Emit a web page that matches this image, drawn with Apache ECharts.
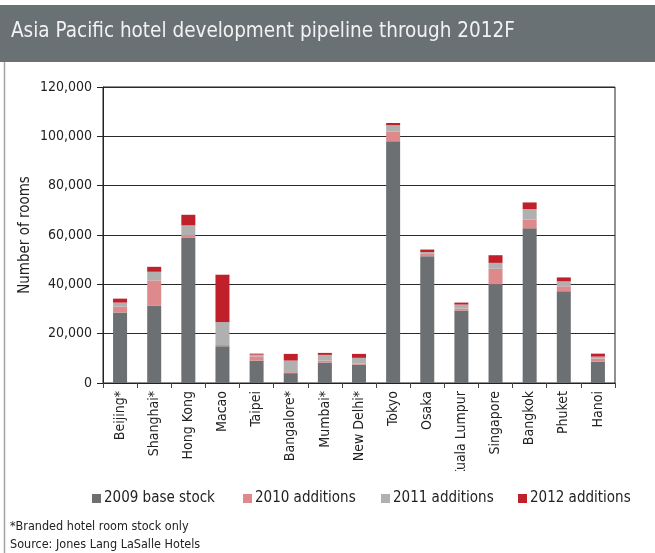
<!DOCTYPE html>
<html>
<head>
<meta charset="utf-8">
<script src="https://cdn.jsdelivr.net/npm/echarts@6/dist/echarts.min.js"></script>
<style>
  html, body { margin: 0; padding: 0; background: #fff; }
  #chart { width: 655px; height: 553px; }
</style>
</head>
<body>
<div id="chart"></div>
<script>
// Hotel room stock by city (rooms)
const cities = ['Beijing*', 'Shanghai*', 'Hong Kong', 'Macao', 'Taipei', 'Bangalore*', 'Mumbai*',
  'New Delhi*', 'Tokyo', 'Osaka', 'Kuala Lumpur', 'Singapore', 'Bangkok', 'Phuket', 'Hanoi'];
const base2009 = [28600, 31400, 58800, 14900, 9100, 4000, 8300, 7500, 98000, 51400, 29400, 40000, 62700, 37200, 8700];
const add2010  = [2400, 10200, 1200, 500, 1700, 400, 800, 400, 3900, 1200, 800, 6300, 3500, 2000, 1200];
const add2011  = [1600, 3500, 3900, 9300, 700, 4700, 2300, 2300, 2600, 500, 1600, 2400, 4300, 2000, 800];
const add2012  = [1600, 2000, 4300, 19200, 400, 2700, 800, 1600, 900, 1000, 800, 3100, 2700, 1600, 1200];
const seriesNames = ['2009 base stock', '2010 additions', '2011 additions', '2012 additions'];
const yTicks = [0, 20000, 40000, 60000, 80000, 100000, 120000];

const FONT = '"DejaVu Sans Condensed", "Liberation Sans", sans-serif';
const colors = ['#6d7073', '#de8a8c', '#b0b0b1', '#c0202a'];
const legendLefts = [92, 243, 381, 518];

const chart = echarts.init(document.getElementById('chart'), null, { renderer: 'canvas' });

const values = [base2009, add2010, add2011, add2012];
const series = seriesNames.map((name, i) => ({
  name: name,
  type: 'bar',
  stack: 'rooms',
  barWidth: 14,
  data: values[i],
  itemStyle: { color: colors[i] }
}));

// one legend block per series so each entry sits at its own column
const legends = seriesNames.map((name, i) => ({
  data: [name],
  left: legendLefts[i], top: 491, padding: 0,
  icon: 'rect', itemWidth: 9, itemHeight: 9,
  textStyle: { fontFamily: FONT, fontSize: 15, color: '#222', padding: [0, 0, 0, -2] }
}));

chart.setOption({
  animation: false,
  color: colors,
  textStyle: { fontFamily: FONT },
  grid: {
    left: 103, right: 40, top: 87, bottom: 170,
    show: true, borderColor: '#222', borderWidth: 1, backgroundColor: 'transparent'
  },
  legend: legends,
  xAxis: {
    type: 'category',
    data: cities,
    axisLine: { lineStyle: { color: '#222', width: 1 } },
    axisTick: { show: true, length: 5, lineStyle: { color: '#444' } },
    axisLabel: { rotate: 90, margin: 8, fontFamily: FONT, fontSize: 14, color: '#222', interval: 0 }
  },
  yAxis: {
    type: 'value',
    min: yTicks[0], max: yTicks[yTicks.length - 1], interval: yTicks[1] - yTicks[0],
    name: 'Number of rooms',
    nameLocation: 'middle', nameRotate: 90, nameGap: 70, nameMoveOverlap: false,
    nameTextStyle: { fontFamily: FONT, fontSize: 15, color: '#222' },
    axisLine: { show: true, lineStyle: { color: '#222' } },
    axisTick: { show: true, length: 6, lineStyle: { color: '#222' } },
    axisLabel: {
      margin: 11, fontFamily: FONT, fontSize: 14, color: '#222',
      formatter: v => v.toLocaleString('en-US')
    },
    splitLine: { show: true, lineStyle: { color: '#2a2a2a', width: 1 } }
  },
  series: series,
  graphic: [
    { type: 'rect', shape: { x: 0, y: 5, width: 655, height: 57 }, style: { fill: '#697175' }, z: 10 },
    { type: 'text', left: 11, top: 21, z: 11,
      style: { text: 'Asia Pacific hotel development pipeline through 2012F', fill: '#f2f2f2', font: '20.5px ' + FONT } },
    { type: 'line', shape: { x1: 4.5, y1: 62, x2: 4.5, y2: 553 }, style: { stroke: '#a3a3a3', lineWidth: 1.5 }, z: 10 },
    { type: 'rect', shape: { x: 10, y: 471, width: 640, height: 14 }, style: { fill: '#fff' }, z: 9 },
    { type: 'text', left: 10, top: 520, z: 11,
      style: { text: '*Branded hotel room stock only', fill: '#222', font: '12.5px ' + FONT } },
    { type: 'text', left: 10, top: 538, z: 11,
      style: { text: 'Source: Jones Lang LaSalle Hotels', fill: '#222', font: '12.5px ' + FONT } }
  ]
});
</script>
</body>
</html>
